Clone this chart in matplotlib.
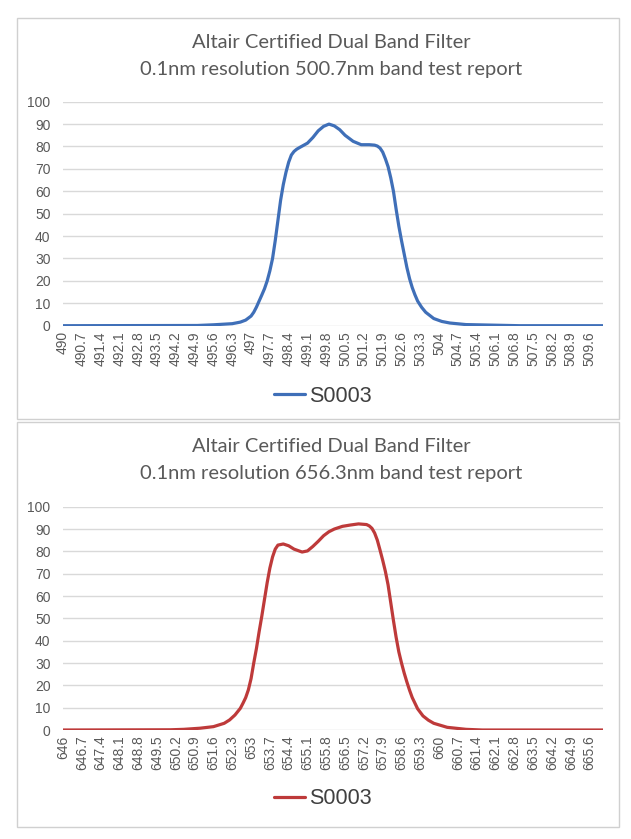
import numpy as np
import matplotlib
matplotlib.use("Agg")
import matplotlib.pyplot as plt
from matplotlib.patches import Rectangle

# 500.7nm band
wl_500 = [490.0, 495.0, 495.6, 496.3, 496.6, 496.8, 497.0, 497.1, 497.2, 497.3,
          497.4, 497.5, 497.6, 497.7, 497.8, 497.9, 498.0, 498.1, 498.2, 498.3,
          498.4, 498.5, 498.6, 498.7, 498.8, 499.1, 499.3, 499.5, 499.7, 499.9,
          500.1, 500.3, 500.5, 500.8, 501.1, 501.4, 501.6, 501.7, 501.8, 501.9,
          502.0, 502.1, 502.2, 502.3, 502.4, 502.5, 502.6, 502.7, 502.8, 502.9,
          503.0, 503.1, 503.2, 503.35, 503.5, 503.8, 504.1, 504.4, 505.0, 506.2,
          507.0, 510.1]
tr_500 = [0, 0.1, 0.4, 0.9, 1.6, 2.5, 4.3, 6.0, 8.3, 11,
          13.7, 16.5, 20, 24.5, 30, 38, 47, 56, 63, 68.5,
          73, 76.2, 77.8, 78.8, 79.5, 81.5, 84, 87, 89, 90,
          89.2, 87.5, 85, 82.3, 80.8, 80.8, 80.6, 80.2, 79.3, 77.5,
          74.5, 71, 66, 60, 52, 44.5, 38, 32, 26, 21,
          17, 13.8, 11, 8.2, 6, 3.2, 1.9, 1.2, 0.5, 0.2,
          0, 0]
ticks_500 = ["490", "490.7", "491.4", "492.1", "492.8", "493.5", "494.2", "494.9",
             "495.6", "496.3", "497", "497.7", "498.4", "499.1", "499.8", "500.5",
             "501.2", "501.9", "502.6", "503.3", "504", "504.7", "505.4", "506.1",
             "506.8", "507.5", "508.2", "508.9", "509.6"]

# 656.3nm band
wl_656 = [646.0, 650.0, 650.5, 651.1, 651.6, 652.0, 652.2, 652.4, 652.6, 652.7,
          652.8, 652.9, 653.0, 653.1, 653.2, 653.3, 653.4, 653.5, 653.6, 653.7,
          653.8, 653.9, 654.0, 654.2, 654.4, 654.6, 654.9, 655.1, 655.3, 655.5,
          655.7, 655.9, 656.1, 656.4, 656.7, 657.0, 657.3, 657.4, 657.5, 657.6,
          657.7, 657.8, 657.9, 658.0, 658.1, 658.2, 658.3, 658.4, 658.5, 658.6,
          658.7, 658.8, 658.9, 659.0, 659.2, 659.4, 659.6, 659.8, 660.3, 661.0,
          661.6, 666.1]
tr_656 = [0, 0.1, 0.3, 0.8, 1.5, 3, 4.5, 6.7, 9.7, 12,
          14.5, 18, 23, 30, 36.5, 44, 51, 58.5, 66, 72.5,
          77.5, 81, 82.8, 83.3, 82.5, 81, 79.7, 80.2, 82.2, 84.5,
          87, 88.8, 90, 91.2, 91.8, 92.3, 92, 91.4, 90.3, 88.2,
          85, 80.6, 76, 71, 65, 57, 49, 41.5, 35, 30,
          25.5, 21.5, 17.8, 14.5, 9.5, 6.3, 4.4, 3, 1.2, 0.3,
          0, 0]
ticks_656 = ["646", "646.7", "647.4", "648.1", "648.8", "649.5", "650.2", "650.9",
             "651.6", "652.3", "653", "653.7", "654.4", "655.1", "655.8", "656.5",
             "657.2", "657.9", "658.6", "659.3", "660", "660.7", "661.4", "662.1",
             "662.8", "663.5", "664.2", "664.9", "665.6"]

title1 = "Altair Certified Dual Band Filter"
series_name = "S0003"

W, H = 631, 839
fig = plt.figure(figsize=(W / 100, H / 100), dpi=100)

grey_text = "#595959"
grid_col = "#D9D9D9"


def panel(top_px, bottom_px, ax_top, ax_bot, wl, tr, ticks, color, sub, t1_px, t2_px, leg_px):
    # outer chart border
    fig.patches.append(Rectangle((17 / W, 1 - bottom_px / H), 602 / W, (bottom_px - top_px) / H,
                                 transform=fig.transFigure, fill=False,
                                 edgecolor="#D0D0D0", linewidth=1.0))
    ax = fig.add_axes([63 / W, 1 - ax_bot / H, 540 / W, (ax_bot - ax_top) / H])
    ax.plot(wl, tr, color=color, linewidth=2.3, solid_capstyle="round",
            solid_joinstyle="round", label=series_name)
    ax.set_xlim(wl[0], wl[-1])
    ax.set_ylim(0, 100)
    ax.set_yticks(np.arange(0, 101, 10))
    pos = wl[0] + 0.7 * np.arange(len(ticks))
    ax.set_xticks(pos)
    ax.set_xticklabels(ticks, rotation=90)
    ax.tick_params(axis="x", length=0, pad=4, labelsize=10, labelcolor=grey_text)
    ax.tick_params(axis="y", length=0, pad=9, labelsize=10, labelcolor=grey_text)
    for lab in ax.get_xticklabels() + ax.get_yticklabels():
        lab.set_fontfamily("Liberation Sans")
    ax.grid(axis="y", color=grid_col, linewidth=1.0)
    ax.set_axisbelow(True)
    for s in ax.spines.values():
        s.set_visible(False)
    fig.text(0.525, 1 - t1_px / H, title1, ha="center", va="center",
             fontsize=14.5, color=grey_text, family="Lato")
    fig.text(0.525, 1 - t2_px / H, sub, ha="center", va="center",
             fontsize=14.5, color=grey_text, family="Lato")
    fig.legend(handles=ax.get_lines(), loc="center", bbox_to_anchor=(323 / W, 1 - leg_px / H),
               frameon=False, prop={"family": "Liberation Sans", "size": 15.5},
               handlelength=1.4, handletextpad=0.2, labelcolor="#404040")
    return ax


panel(18, 419, 101.7, 325.7, wl_500, tr_500, ticks_500, "#3F6FB8",
      "0.1nm resolution 500.7nm band test report", 42, 70, 396)
panel(422, 827, 506.7, 730, wl_656, tr_656, ticks_656, "#BE3A3A",
      "0.1nm resolution 656.3nm band test report", 447, 474, 799)

fig.savefig("out.png", dpi=100)
